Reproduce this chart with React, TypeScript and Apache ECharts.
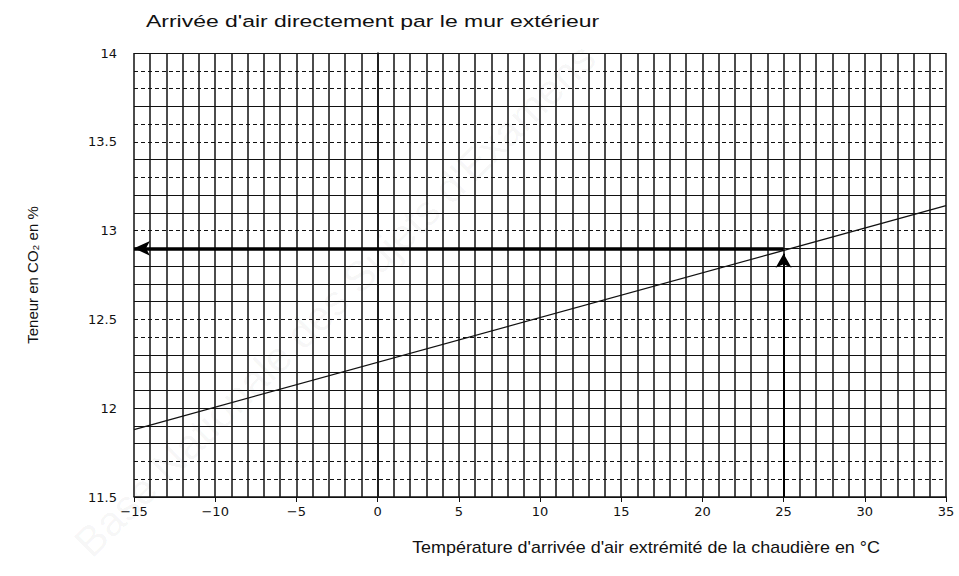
import React, { useEffect, useRef } from "react";
import * as echarts from "echarts";

const titleText = "Arrivée d'air directement par le mur extérieur";
const xName = "Température d'arrivée d'air extrémité de la chaudière en °C";
const yName = "Teneur en CO₂ en %";
const watermark = "Base Nationale des Sujets d'Examens";

const xMin = -15;
const xMax = 35;
const yMin = 11.5;
const yMax = 14;

// CO2 content line (temperature °C, CO2 %)
const lineTemps = [-15, 35];
const lineCO2 = [11.88, 13.14];

// reading shown by arrows
const readingTemp = 25;
const readingCO2 = 12.9;

// horizontal grid levels drawn solid (others are dashed)
const solidGridY = [14, 13.7, 13.4, 13.2, 13.1, 12.9, 12.8, 12.7, 12.6, 12.3, 12.2, 12.1, 12, 11.9, 11.8, 11.5];

const FONT = "'Liberation Sans', Arial, sans-serif";
const TICK_FONT = "'DejaVu Sans', sans-serif";

export default function App() {
  const ref = useRef<HTMLDivElement>(null);
  useEffect(() => {
    if (!ref.current) return;
    const chart = echarts.init(ref.current, null, { renderer: "svg" });
    const lineData = lineTemps.map((t, i) => [t, lineCO2[i]]);
    chart.setOption({
      animation: false,
      backgroundColor: "#ffffff",
      textStyle: { fontFamily: FONT },
      graphic: [
        {
          type: "text",
          x: 335,
          y: 300,
          rotation: (44.5 * Math.PI) / 180,
          z: -10,
          silent: true,
          style: {
            text: watermark,
            fontSize: 42,
            fontFamily: FONT,
            fill: "rgba(0,0,0,0.045)",
            textAlign: "center",
            textVerticalAlign: "middle",
          },
        },
        {
          type: "text",
          x: 146,
          y: 21,
          scaleX: 1.35,
          style: {
            text: titleText,
            fontSize: 17,
            fontFamily: FONT,
            fill: "#111",
            textAlign: "left",
            textVerticalAlign: "middle",
          },
        },
        {
          type: "text",
          x: 646,
          y: 548,
          scaleX: 1.12,
          style: {
            text: xName,
            fontSize: 16,
            fontFamily: FONT,
            fill: "#111",
            textAlign: "center",
            textVerticalAlign: "middle",
          },
        },
      ],
      grid: { left: 134, right: 13, top: 53, bottom: 79 },
      xAxis: {
        type: "value",
        min: xMin,
        max: xMax,
        interval: 5,
        axisLine: { show: true, onZero: false, lineStyle: { color: "#111", width: 1.5 } },
        axisTick: { show: true, length: 5, lineStyle: { color: "#111" } },
        axisLabel: {
          color: "#111",
          fontSize: 13,
          margin: 8,
          fontFamily: TICK_FONT,
          formatter: (v: number) => (v < 0 ? "\u2212" + Math.abs(v) : String(v)),
        },
        splitLine: { show: true, lineStyle: { color: "#111", width: 1.5 } },
        minorTick: { show: false, splitNumber: 5 },
        minorSplitLine: { show: true, lineStyle: { color: "#111", width: 1.5 } },
      },
      yAxis: {
        type: "value",
        min: yMin,
        max: yMax,
        interval: 0.5,
        name: yName,
        nameLocation: "middle",
        nameRotate: 90,
        nameGap: 94,
        nameTextStyle: { fontSize: 15, color: "#111", fontFamily: FONT },
        axisLine: { show: true, lineStyle: { color: "#111", width: 1.5 } },
        axisTick: { show: true, length: 8, lineStyle: { color: "#111" } },
        axisLabel: { color: "#111", fontSize: 13, margin: 17, fontFamily: TICK_FONT },
        splitLine: { show: true, lineStyle: { color: "#111", width: 1, type: [4, 3] } },
        minorTick: { show: false, splitNumber: 5 },
        minorSplitLine: { show: true, lineStyle: { color: "#111", width: 1, type: [4, 3] } },
      },
      series: [
        {
          type: "line",
          data: lineData,
          showSymbol: false,
          symbol: "none",
          lineStyle: { color: "#111", width: 1.3 },
          z: 3,
          markLine: {
            silent: true,
            symbol: ["none", "none"],
            label: { show: false },
            emphasis: { disabled: true },
            data: [
              ...solidGridY.map((v) => ({
                yAxis: v,
                lineStyle: { color: "#111", width: 1, type: "solid" },
              })),
              [
                {
                  coord: [readingTemp, readingCO2],
                  symbol: "none",
                  lineStyle: { color: "#000", width: 3.5, type: "solid" },
                },
                { coord: [xMin, readingCO2], symbol: "arrow", symbolSize: [11, 16] },
              ],
              [
                {
                  coord: [readingTemp, yMin],
                  symbol: "none",
                  lineStyle: { color: "#000", width: 2, type: "solid" },
                },
                { coord: [readingTemp, readingCO2 - 0.03], symbol: "arrow", symbolSize: [12, 14] },
              ],
            ],
          },
        },
      ],
    });
    return () => chart.dispose();
  }, []);
  return <div ref={ref} style={{ width: 959, height: 576, position: "absolute", left: 0, top: 0 }} />;
}
